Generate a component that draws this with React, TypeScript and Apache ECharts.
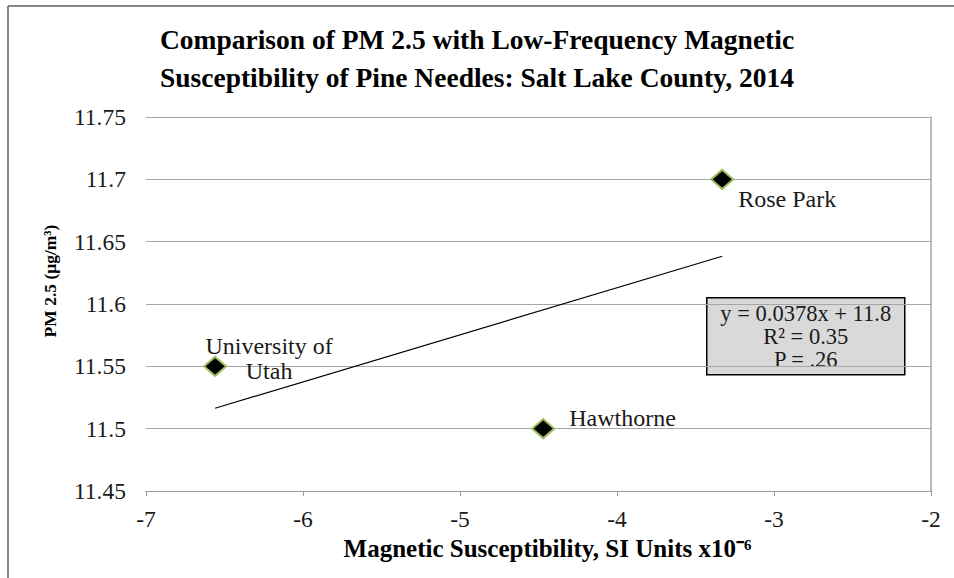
import React, { useEffect, useRef } from "react";
import * as echarts from "echarts";

const siteNames = ["University of\nUtah", "Hawthorne", "Rose Park"];
const susceptibility = [-6.56, -4.47, -3.33];
const pm25 = [11.55, 11.5, 11.7];
const xTicks = { min: -7, max: -2, interval: 1 };
const yTicks = { min: 11.45, max: 11.75, interval: 0.05 };
const equationLines = ["y = 0.0378x + 11.8", "R² = 0.35", "P = .26"];

const labelPlacement: any[] = [
  { position: "inside", offset: [54, -8], align: "center" },
  { position: "right", offset: [9, -11] },
  { position: "right", offset: [-1, 20] },
];

function regression(xs: number[], ys: number[]) {
  const n = xs.length;
  const mx = xs.reduce((a, b) => a + b, 0) / n;
  const my = ys.reduce((a, b) => a + b, 0) / n;
  let sxy = 0, sxx = 0;
  for (let i = 0; i < n; i++) {
    sxy += (xs[i] - mx) * (ys[i] - my);
    sxx += (xs[i] - mx) * (xs[i] - mx);
  }
  const slope = sxy / sxx;
  return { slope, intercept: my - slope * mx };
}

export default function App() {
  const ref = useRef<HTMLDivElement>(null);
  useEffect(() => {
    if (!ref.current) return;
    const chart = echarts.init(ref.current, null, { renderer: "svg" });
    const { slope, intercept } = regression(susceptibility, pm25);
    const xMin = Math.min(...susceptibility);
    const xMax = Math.max(...susceptibility);
    const trend = [
      [xMin, slope * xMin + intercept],
      [xMax, slope * xMax + intercept],
    ];
    const serif = "'Liberation Serif', 'Times New Roman', serif";
    const points = susceptibility.map((x, i) => ({
      value: [x, pm25[i]],
      label: {
        show: true,
        formatter: siteNames[i],
        color: "#1a1a1a",
        fontFamily: serif,
        fontSize: 24,
        lineHeight: 25,
        ...labelPlacement[i],
      },
    }));
    chart.setOption({
      animation: false,
      backgroundColor: "#ffffff",
      title: {
        text: "Comparison of PM 2.5 with Low-Frequency Magnetic\nSusceptibility of Pine Needles: Salt Lake County, 2014",
        left: "center",
        top: 15,
        textStyle: {
          fontFamily: serif,
          fontWeight: "bold",
          fontSize: 27.5,
          lineHeight: 38,
          color: "#000",
        },
      },
      grid: { left: 146, right: 23, top: 117, bottom: 87, containLabel: false },
      xAxis: {
        type: "value",
        min: xTicks.min,
        max: xTicks.max,
        interval: xTicks.interval,
        name: "Magnetic Susceptibility, SI Units x10⁻⁶",
        nameLocation: "middle",
        nameGap: 44,
        nameTextStyle: {
          fontFamily: serif,
          fontWeight: "bold",
          fontSize: 25,
          color: "#000",
          padding: [0, 0, 0, 18],
        },
        axisLine: { show: true, lineStyle: { color: "#999", width: 1 } },
        axisTick: { show: true, length: 5, lineStyle: { color: "#999" } },
        axisLabel: { fontFamily: serif, fontSize: 23.5, color: "#1a1a1a", margin: 16 },
        splitLine: { show: false },
      },
      yAxis: [
        {
          type: "value",
          min: yTicks.min,
          max: yTicks.max,
          interval: yTicks.interval,
          name: "PM 2.5 (μg/m³)",
          nameLocation: "middle",
          nameGap: 87,
          nameTextStyle: {
            fontFamily: serif,
            fontWeight: "bold",
            fontSize: 17.5,
            color: "#000",
            padding: [0, 0, 0, 46],
          },
          axisLine: { show: false },
          axisTick: { show: false },
          axisLabel: {
            fontFamily: serif,
            fontSize: 23.5,
            color: "#1a1a1a",
            margin: 20,
            formatter: (v: number) => String(parseFloat(v.toFixed(2))),
          },
          splitLine: { show: true, lineStyle: { color: "#a6a6a6", width: 1 } },
        },
        {
          type: "value",
          position: "right",
          min: yTicks.min,
          max: yTicks.max,
          interval: yTicks.interval,
          axisLine: { show: true, lineStyle: { color: "#a6a6a6", width: 1.5 } },
          axisTick: { show: false },
          axisLabel: { show: false },
          splitLine: { show: false },
        },
      ],
      series: [
        {
          type: "line",
          data: trend,
          symbol: "none",
          lineStyle: { color: "#000", width: 1.2 },
          z: 2,
        },
        {
          type: "scatter",
          data: points,
          symbol: "diamond",
          symbolSize: [22, 19],
          itemStyle: { color: "#000", borderColor: "#9BBB59", borderWidth: 2, opacity: 1 },
          z: 3,
        },
      ],
      graphic: [
        {
          type: "line",
          shape: { x1: 8, y1: 6, x2: 954, y2: 6 },
          style: { stroke: "#868686", lineWidth: 2 },
        },
        {
          type: "line",
          shape: { x1: 8, y1: 6, x2: 8, y2: 578 },
          style: { stroke: "#868686", lineWidth: 2 },
        },
        {
          type: "group",
          left: 706,
          top: 297,
          children: [
            {
              type: "rect",
              shape: { x: 0, y: 0, width: 198, height: 77 },
              style: { fill: "#d9d9d9", stroke: "#000", lineWidth: 1.5 },
            },
            {
              type: "text",
              x: 99,
              y: 39,
              style: {
                text: equationLines.join("\n"),
                fontFamily: serif,
                fontSize: 22.5,
                lineHeight: 23,
                fill: "#1a1a1a",
                align: "center",
                verticalAlign: "middle",
              },
            },
          ],
        },
      ],
    });
    return () => chart.dispose();
  }, []);
  return <div ref={ref} style={{ width: 954, height: 578, position: "absolute", left: 0, top: 0 }} />;
}
